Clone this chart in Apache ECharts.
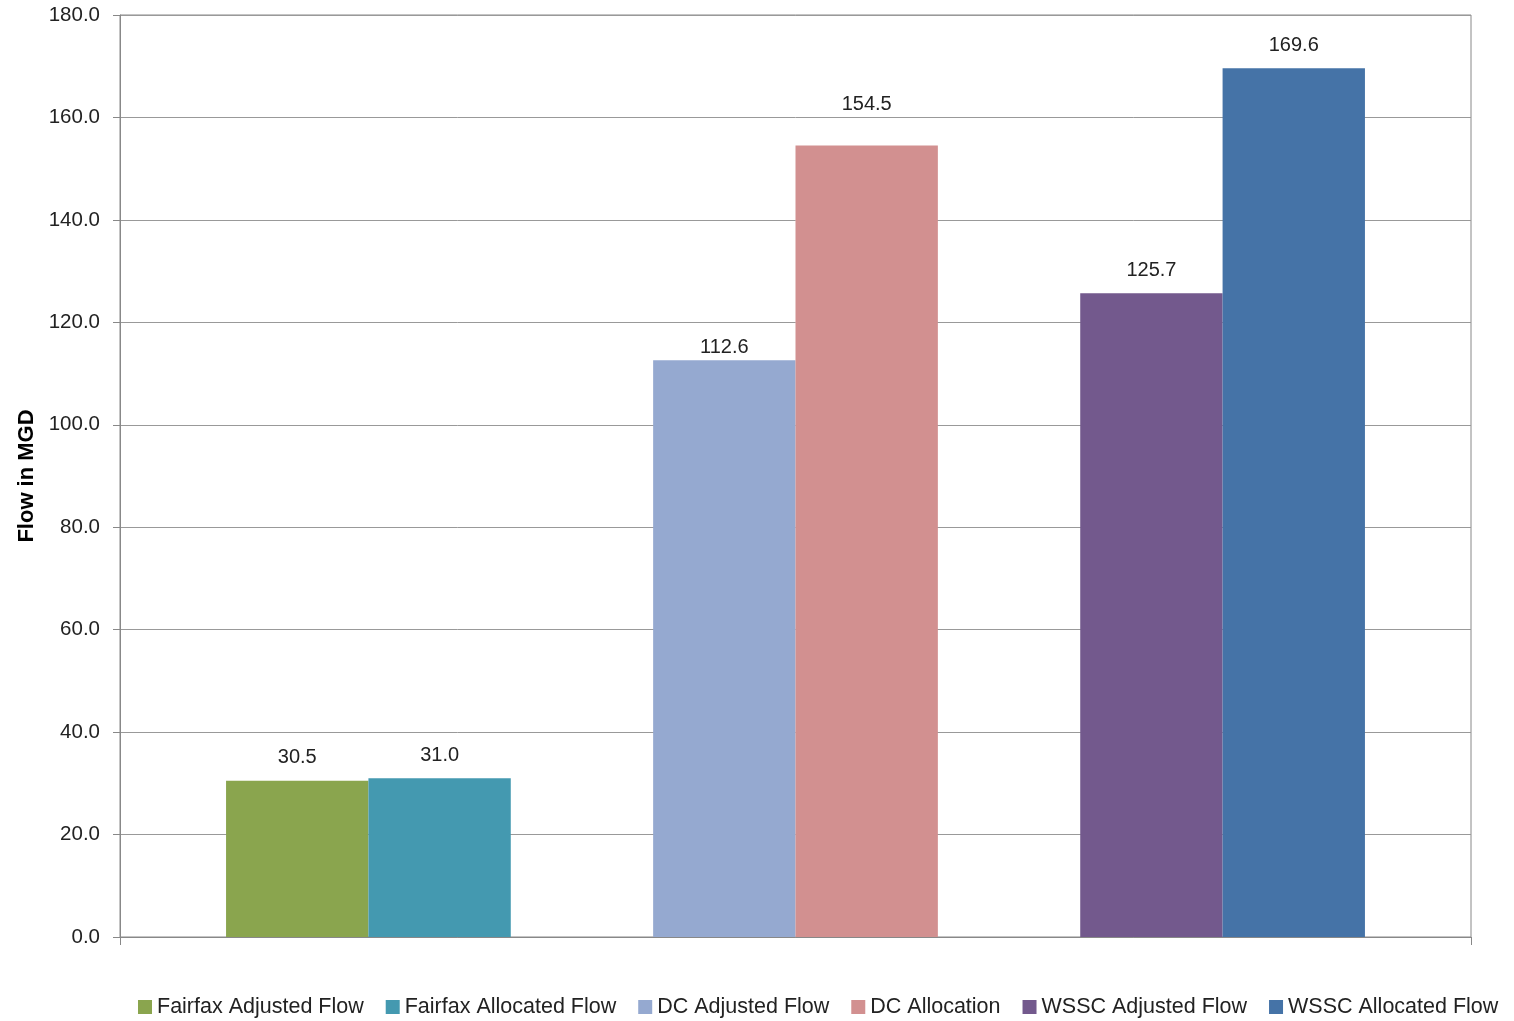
<!DOCTYPE html>
<html lang="en">
<head>
    <meta charset="utf-8">
    <title>Flow in MGD</title>
    <script type="text/javascript" src="https://cdn.jsdelivr.net/npm/echarts@6/dist/echarts.min.js"></script>
</head>
<body style="margin:0">
    <div id="myEcharts" style="width: 1514px; height: 1021px;"></div>
</body>
<script type="text/javascript">
    // one category only, the bars are grouped in pairs with an empty slot between
    let categories = [''];
    let seriesNames = ['Fairfax Adjusted Flow', 'Fairfax Allocated Flow', 'DC Adjusted Flow',
        'DC Allocation', 'WSSC Adjusted Flow', 'WSSC Allocated Flow'];
    let seriesValues = [30.5, 31.0, 112.6, 154.5, 125.7, 169.6];
    let seriesColors = ['#8AA54E', '#4499B0', '#95A9D0', '#D29090', '#73598D', '#4573A7'];
    let yTicks = [0, 20, 40, 60, 80, 100, 120, 140, 160, 180];

    let font = 'Liberation Sans';
    // the DC labels were moved by hand in the original
    let labelShift = [0, 0, 10, -18, 0, 0];
    let series = [];
    seriesNames.forEach(function (name, i) {
        series.push({
            name: name,
            type: 'bar',
            data: [seriesValues[i]],
            itemStyle: { color: seriesColors[i] },
            label: {
                show: true,
                position: 'top',
                distance: 13,
                offset: [0, labelShift[i]],
                color: '#222',
                fontFamily: font,
                fontSize: 20,
                formatter: function (p) { return p.value.toFixed(1); }
            }
        });
        // empty slot after each pair
        if (i === 1 || i === 3) {
            series.push({ name: 'gap' + i, type: 'bar', data: ['-'] });
        }
    });

    let myChart = echarts.init(document.getElementById('myEcharts'));
    let option = {
        animation: false,
        grid: {
            left: 120, right: 43, top: 15, bottom: 84,
            show: true, borderColor: '#888', borderWidth: 1, containLabel: false
        },
        legend: {
            data: seriesNames,
            left: 133,
            bottom: -2,
            itemWidth: 14,
            itemHeight: 14,
            itemGap: 22,
            icon: 'rect',
            textStyle: { fontFamily: font, fontSize: 21.5, color: '#222' }
        },
        xAxis: {
            type: 'category',
            data: categories,
            axisLine: { lineStyle: { color: '#888' } },
            axisTick: { show: true, length: 8, lineStyle: { color: '#888' } },
            axisLabel: { show: false }
        },
        yAxis: {
            type: 'value',
            min: yTicks[0],
            max: yTicks[yTicks.length - 1],
            interval: 20,
            name: 'Flow in MGD',
            nameLocation: 'middle',
            nameGap: 82,
            nameTextStyle: { fontFamily: font, fontSize: 22, fontWeight: 'bold', color: '#000' },
            axisLine: { show: true, lineStyle: { color: '#888' } },
            axisTick: { show: true, length: 7, lineStyle: { color: '#888' } },
            splitLine: { lineStyle: { color: '#999' } },
            axisLabel: {
                fontFamily: font, fontSize: 20.5, color: '#222', margin: 20,
                formatter: function (v) { return v.toFixed(1); }
            }
        },
        series: series.map(function (s) {
            s.barGap = '0%';
            s.barCategoryGap = '15.7%';
            return s;
        })
    };
    myChart.setOption(option);
</script>
</html>
